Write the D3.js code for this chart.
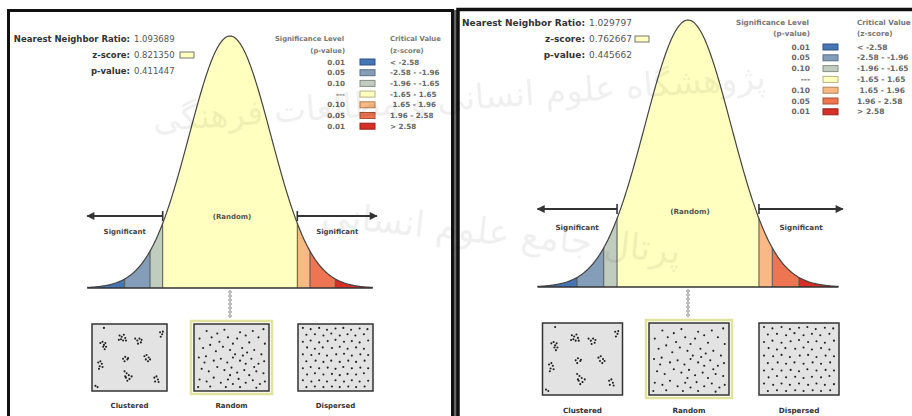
<!DOCTYPE html>
<html><head><meta charset="utf-8">
<script src="https://cdn.jsdelivr.net/npm/d3@7"></script>
<style>body{margin:0;background:#fff;overflow:hidden} text{font-family:"DejaVu Sans",Verdana,sans-serif}</style>
</head><body><svg id="c" width="912" height="416"></svg>
<script>
// ---------- data ----------
const statLabels = ["Nearest Neighbor Ratio:", "z-score:", "p-value:"];
const statValuesLeft = ["1.093689", "0.821350", "0.411447"];
const statValuesRight = ["1.029797", "0.762667", "0.445662"];
const legendHeadSig = ["Significance Level", "(p-value)"];
const legendHeadCrit = ["Critical Value", "(z-score)"];
const sigLevels = ["0.01", "0.05", "0.10", "---", "0.10", "0.05", "0.01"];
const critValues = ["< -2.58", "-2.58 - -1.96", "-1.96 - -1.65", "-1.65 - 1.65", " 1.65 - 1.96", "1.96 - 2.58", "> 2.58"];
const binEdges = [-3.5, -2.58, -1.96, -1.65, 1.65, 1.96, 2.58, 3.5];
const binColors = ["#4575B5", "#849EBA", "#C0CCBE", "#FFFFBF", "#FAB984", "#ED7551", "#D62F27"];
const zoneLabels = ["Significant", "(Random)", "Significant"];
const patternLabels = ["Clustered", "Random", "Dispersed"];
const clusteredPts = [[14,3],
 [9,27],[12,25],[14,30],[16,27],[13,33],[17,33],[15,37],
 [36,15],[39,17],[42,14],[44,19],[38,21],[41,23],[45,23],[35,22],
 [58,20],[61,23],[64,20],[66,26],[62,28],[67,22],
 [93,10],[96,13],[94,17],[97,9],
 [6,58],[9,56],[11,60],[8,64],[12,65],[7,68],
 [41,52],[44,49],[47,53],[43,56],[48,51],
 [71,48],[74,46],[77,50],[73,53],[76,56],[79,53],
 [43,72],[46,75],[49,78],[45,82],[50,84],[53,80],[47,87],[44,80],
 [85,82],[88,80],[90,85],[86,88],[91,89],
 [2,95],[5,97]];
const randomPts = [[15,8],[40,6],[62,10],[80,8],[95,5],[5,20],[22,18],[33,25],[45,18],[52,28],[58,20],[70,15],[75,26],[88,18],[97,28],
 [10,35],[20,30],[28,40],[38,33],[48,38],[55,45],[65,35],[72,42],[82,38],[92,45],
 [4,50],[14,48],[25,55],[35,52],[44,58],[52,50],[62,55],[70,60],[78,52],[88,60],[96,56],
 [8,68],[18,72],[30,65],[40,70],[50,66],[58,74],[68,70],[75,78],[85,72],[95,75],
 [5,85],[15,88],[25,82],[35,90],[45,85],[52,92],[60,84],[70,90],[80,86],[90,92],[97,88],
 [3,97],[20,96],[42,97],[62,97],[85,98],[30,12],[12,58],[66,47],[82,65],[48,78]];
const dispersedPts = [[4,3],[15,5],[27,3],[38,6],[50,4],[61,3],[72,6],[84,4],[95,5],
 [9,14],[21,13],[33,15],[44,12],[56,15],[67,13],[78,15],[90,13],
 [4,25],[15,23],[27,26],[39,24],[50,22],[62,25],[73,24],[84,26],[96,23],
 [10,34],[21,36],[32,34],[45,35],[56,33],[67,36],[79,34],[90,36],
 [4,45],[16,46],[27,44],[38,47],[51,45],[62,44],[73,47],[85,45],[96,46],
 [9,56],[22,55],[33,57],[44,55],[56,57],[68,55],[79,57],[91,55],
 [4,67],[15,65],[27,67],[39,66],[50,68],[61,65],[73,67],[85,66],[96,67],
 [10,77],[21,75],[33,77],[45,76],[56,78],[67,76],[79,77],[90,75],
 [4,86],[16,88],[27,86],[38,88],[50,86],[62,88],[73,86],[84,88],[96,87],
 [9,97],[21,96],[33,97],[45,96],[56,97],[68,96],[79,97],[91,96]];
const watermark = ["پژوهشگاه علوم انسانی و مطالعات فرهنگی", "پرتال جامع علوم انسانی"];

// ---------- layout ----------
const panels = [
 {values: statValuesLeft, fs: 8.5, statX: 130, statY: [39, 55, 71], swX: 180,
  legSigX: 345, legHeadY: [39, 51], legRow0: 62, legStep: 10.7, legSwX: 360, legCritX: 390, legFs: 7.2, legHeadFs: 6.8,
  cx: 230, k: 40.8, baseY: 288, peakY: 36, arrowY: 216, sigY: 232, randY: 217, bigFs: 7,
  boxW: 75, boxH: 67, boxTop: 324, boxCx: [129.5, 231.5, 335.5], labY: 406},
 {values: statValuesRight, fs: 9, statX: 585, statY: [23, 39, 55], swX: 635,
  legSigX: 810, legHeadY: [22, 33], legRow0: 47, legStep: 10.8, legSwX: 823, legCritX: 857, legFs: 7.5, legHeadFs: 7.2,
  cx: 688, k: 43, baseY: 287, peakY: 20, arrowY: 209, sigY: 227, randY: 211, bigFs: 7.2,
  boxW: 80, boxH: 72, boxTop: 323, boxCx: [582.5, 689, 799], labY: 410}
];

const svg = d3.select("#c");
const defs = svg.append("defs");
defs.append("marker").attr("id", "ah").attr("viewBox", "0 0 10 10").attr("refX", 9).attr("refY", 5)
  .attr("markerWidth", 9).attr("markerHeight", 8).attr("markerUnits", "userSpaceOnUse")
  .attr("orient", "auto-start-reverse")
  .append("path").attr("d", "M0,0L10,5L0,10Z").attr("fill", "#333");

// frames
svg.append("rect").attr("x", 8.5).attr("y", 10.5).attr("width", 444).attr("height", 430)
  .attr("fill", "none").attr("stroke", "#111").attr("stroke-width", 3);
svg.append("rect").attr("x", 454).attr("y", 10).attr("width", 3).attr("height", 420).attr("fill", "#666");
svg.append("path").attr("d", "M458,440V9.5H920").attr("fill", "none").attr("stroke", "#111").attr("stroke-width", 3.5);

const pdf = z => Math.exp(-z * z / 2);

panels.forEach(P => {
  const g = svg.append("g");
  const xs = d3.scaleLinear().domain([-1, 1]).range([P.cx - P.k, P.cx + P.k]);
  const ys = d3.scaleLinear().domain([0, 1]).range([P.baseY, P.peakY]);

  // stats text
  statLabels.forEach((lab, i) => {
    g.append("text").attr("x", P.statX).attr("y", P.statY[i]).attr("dy", "0.35em")
      .attr("text-anchor", "end").attr("font-size", P.fs).attr("font-weight", "bold").attr("fill", "#333").text(lab);
    g.append("text").attr("x", P.statX + 4).attr("y", P.statY[i]).attr("dy", "0.35em")
      .attr("font-size", P.fs).attr("fill", "#555").text(P.values[i]);
  });
  g.append("rect").attr("x", P.swX).attr("y", P.statY[1] - 3).attr("width", 14).attr("height", 6)
    .attr("fill", binColors[3]).attr("stroke", "#777").attr("stroke-width", 1);

  // legend
  legendHeadSig.forEach((t, i) => g.append("text").attr("x", P.legSigX - (i ? 0 : 1)).attr("y", P.legHeadY[i]).attr("dy", "0.35em")
    .attr("text-anchor", "end").attr("font-size", P.legHeadFs).attr("font-weight", "bold").attr("fill", "#777").text(t));
  legendHeadCrit.forEach((t, i) => g.append("text").attr("x", P.legCritX).attr("y", P.legHeadY[i]).attr("dy", "0.35em")
    .attr("font-size", P.legHeadFs).attr("font-weight", "bold").attr("fill", "#777").text(t));
  sigLevels.forEach((s, i) => {
    const y = P.legRow0 + i * P.legStep;
    g.append("text").attr("x", P.legSigX).attr("y", y).attr("dy", "0.35em").attr("text-anchor", "end")
      .attr("font-size", P.legFs).attr("font-weight", "bold").attr("fill", "#666").text(s);
    g.append("rect").attr("x", P.legSwX).attr("y", y - 3).attr("width", 15).attr("height", 6)
      .attr("fill", binColors[i]).attr("stroke", d3.color(binColors[i]).darker(1)).attr("stroke-width", 1);
    g.append("text").attr("x", P.legCritX).attr("y", y).attr("dy", "0.35em").attr("xml:space", "preserve")
      .attr("font-size", P.legFs).attr("font-weight", "bold").attr("fill", "#666").text(critValues[i]);
  });

  // curve bins
  for (let b = 0; b < binColors.length; b++) {
    const zs = d3.range(binEdges[b], binEdges[b + 1], 0.02).concat([binEdges[b + 1]]);
    g.append("path").datum(zs).attr("fill", binColors[b])
      .attr("d", d3.area().x(z => xs(z)).y0(ys(0)).y1(z => ys(pdf(z))));
  }
  binEdges.slice(1, -1).forEach(z => g.append("line").attr("x1", xs(z)).attr("x2", xs(z))
    .attr("y1", ys(0)).attr("y2", ys(pdf(z))).attr("stroke", "#555").attr("stroke-width", 1));
  const all = d3.range(-3.5, 3.5001, 0.02);
  g.append("path").datum(all).attr("fill", "none").attr("stroke", "#444").attr("stroke-width", 1.2)
    .attr("d", d3.line().x(z => xs(z)).y(z => ys(pdf(z))));
  g.append("line").attr("x1", xs(-3.5)).attr("x2", xs(3.5)).attr("y1", ys(0)).attr("y2", ys(0))
    .attr("stroke", "#333").attr("stroke-width", 1.6);

  // arrows
  [[-1.65, -3.5], [1.65, 3.6]].forEach(([a, b]) => {
    g.append("line").attr("x1", xs(a)).attr("x2", xs(b)).attr("y1", P.arrowY).attr("y2", P.arrowY)
      .attr("stroke", "#333").attr("stroke-width", 1.8).attr("marker-end", "url(#ah)");
    g.append("line").attr("x1", xs(a)).attr("x2", xs(a)).attr("y1", P.arrowY - 5).attr("y2", P.arrowY + 5)
      .attr("stroke", "#333").attr("stroke-width", 1.6);
  });
  g.append("text").attr("x", xs(-2.58)).attr("y", P.sigY).attr("dy", "0.35em").attr("text-anchor", "middle")
    .attr("font-size", P.bigFs).attr("font-weight", "bold").attr("fill", "#444").text(zoneLabels[0]);
  g.append("text").attr("x", xs(0) + 2).attr("y", P.randY).attr("dy", "0.35em").attr("text-anchor", "middle")
    .attr("font-size", P.bigFs).attr("font-weight", "bold").attr("fill", "#555").text(zoneLabels[1]);
  g.append("text").attr("x", xs(2.63)).attr("y", P.sigY).attr("dy", "0.35em").attr("text-anchor", "middle")
    .attr("font-size", P.bigFs).attr("font-weight", "bold").attr("fill", "#444").text(zoneLabels[2]);

  // connector
  d3.range(P.baseY + 4, P.boxTop - 5, 4).forEach(y => g.append("circle").attr("cx", xs(0)).attr("cy", y).attr("r", 1.3)
    .attr("fill", "none").attr("stroke", "#888").attr("stroke-width", 0.9));

  // pattern boxes
  [clusteredPts, randomPts, dispersedPts].forEach((pts, i) => {
    const x0 = P.boxCx[i] - P.boxW / 2;
    const bx = d3.scaleLinear().domain([0, 100]).range([x0 + 2, x0 + P.boxW - 2]);
    const by = d3.scaleLinear().domain([0, 100]).range([P.boxTop + 2, P.boxTop + P.boxH - 2]);
    if (i === 1) g.append("rect").attr("x", x0 - 3).attr("y", P.boxTop - 3).attr("width", P.boxW + 6).attr("height", P.boxH + 6)
      .attr("fill", "none").attr("stroke", "#dfe39c").attr("stroke-width", 2.5);
    g.append("rect").attr("x", x0).attr("y", P.boxTop).attr("width", P.boxW).attr("height", P.boxH)
      .attr("fill", "#e3e3e3").attr("stroke", "#333").attr("stroke-width", 1.5);
    g.selectAll(null).data(pts).enter().append("circle").attr("cx", d => bx(d[0])).attr("cy", d => by(d[1]))
      .attr("r", 1.05).attr("fill", "#222");
    g.append("text").attr("x", P.boxCx[i]).attr("y", P.labY).attr("dy", "0.35em").attr("text-anchor", "middle")
      .attr("font-size", P.bigFs).attr("font-weight", "bold").attr("fill", "#333").text(patternLabels[i]);
  });
});

// faint watermark
const wm = svg.append("g").attr("opacity", 0.065).attr("fill", "#000");
wm.append("text").attr("x", 460).attr("y", 110).attr("text-anchor", "middle").attr("font-size", 34)
  .attr("transform", "rotate(-4,460,110)").text(watermark[0]);
wm.append("text").attr("x", 500).attr("y", 245).attr("text-anchor", "middle").attr("font-size", 36)
  .attr("transform", "rotate(6,500,245)").text(watermark[1]);
</script></body></html>
